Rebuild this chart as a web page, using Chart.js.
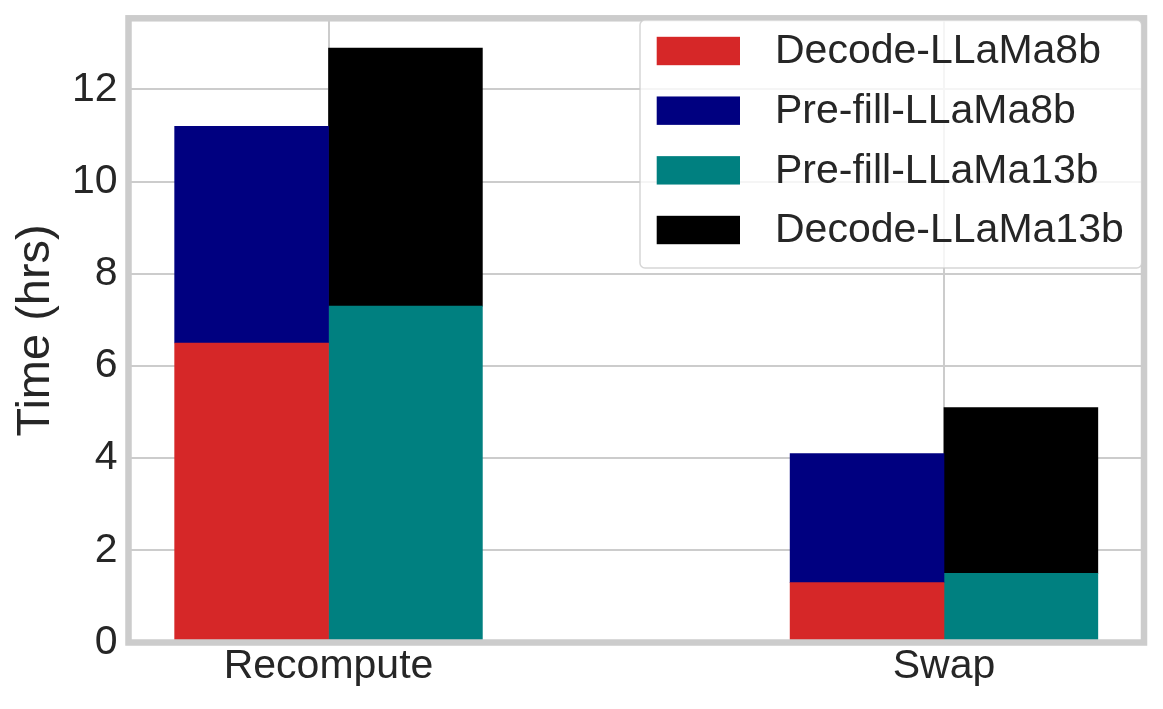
<!DOCTYPE html>
<html>
<head>
<meta charset="utf-8">
<script src="https://cdn.jsdelivr.net/npm/chart.js@4.4.1/dist/chart.umd.min.js"></script>
<style>
  html, body { margin: 0; padding: 0; background: #ffffff; }
  #wrap { width: 1163px; height: 709px; }
</style>
</head>
<body>
<div id="wrap"><canvas id="c" width="1163" height="709"></canvas></div>
<script>
// ---- data ----
const categories = ['Recompute', 'Swap'];
const decode8b   = [6.5, 1.3];
const prefill8b  = [4.7, 2.8];
const prefill13b = [7.3, 1.5];
const decode13b  = [5.6, 3.6];
const yTicks = [0, 2, 4, 6, 8, 10, 12];
const yMax = 13.545;

const FONT = '"Liberation Sans", Arial, sans-serif';
const TEXT = '#262626';
const GRID = '#cccccc';

function pts(vals, off) {
  return vals.map((v, i) => ({ x: i + off, y: v }));
}

const datasets = [
  { label: 'Decode-LLaMa8b',    data: pts(decode8b, -0.125),   backgroundColor: '#d62728', stack: 's8' },
  { label: 'Pre-fill-LLaMa8b',  data: pts(prefill8b, -0.125),  backgroundColor: '#000080', stack: 's8' },
  { label: 'Pre-fill-LLaMa13b', data: pts(prefill13b, 0.125),  backgroundColor: '#008080', stack: 's13' },
  { label: 'Decode-LLaMa13b',   data: pts(decode13b, 0.125),   backgroundColor: '#000000', stack: 's13' }
];

const spineAndLegend = {
  id: 'spineAndLegend',
  afterDraw(chart) {
    const ctx = chart.ctx;
    const a = chart.chartArea;
    // spine
    ctx.save();
    ctx.strokeStyle = GRID;
    ctx.lineWidth = 6.5;
    ctx.strokeRect(a.left, a.top, a.right - a.left, a.bottom - a.top);
    ctx.restore();
    // legend
    const lx = 640, ly = a.top + 1.7, lw = (a.right - 2.3) - 640, lh = 248;
    ctx.save();
    ctx.beginPath();
    if (ctx.roundRect) ctx.roundRect(lx, ly, lw, lh, 5); else ctx.rect(lx, ly, lw, lh);
    ctx.fillStyle = 'rgba(255,255,255,0.8)';
    ctx.fill();
    ctx.strokeStyle = 'rgba(204,204,204,0.8)';
    ctx.lineWidth = 1.5;
    ctx.stroke();
    ctx.font = '41px ' + FONT;
    ctx.textBaseline = 'middle';
    ctx.textAlign = 'left';
    chart.data.datasets.forEach((ds, i) => {
      const cy = ly + 31 + i * 59.67;
      ctx.fillStyle = ds.backgroundColor;
      ctx.fillRect(lx + 16.7, cy - 14.2, 83.3, 28.4);
      ctx.fillStyle = TEXT;
      ctx.fillText(ds.label, lx + 135, cy + 1);
    });
    ctx.restore();
  }
};

function noPad(s) { s.paddingTop = 0; s.paddingBottom = 0; s.paddingLeft = 0; s.paddingRight = 0; }

new Chart(document.getElementById('c'), {
  type: 'bar',
  data: { datasets },
  options: {
    responsive: false,
    animation: false,
    events: [],
    grouped: false,
    categoryPercentage: 1,
    barPercentage: 1,
    borderWidth: 0,
    layout: { padding: { left: 0, right: 19, top: 18.3, bottom: 0 } },
    plugins: { legend: { display: false }, tooltip: { enabled: false } },
    scales: {
      x: {
        type: 'linear',
        min: -0.325,
        max: 1.325,
        offset: false,
        stacked: true,
        afterBuildTicks: s => { s.ticks = categories.map((c, i) => ({ value: i })); },
        afterFit: s => { s.height = 66.5; noPad(s); },
        grid: { color: GRID, lineWidth: 2, drawTicks: false, offset: false },
        border: { display: false },
        ticks: {
          padding: 0,
          color: TEXT,
          font: { family: FONT, size: 41 },
          maxRotation: 0,
          autoSkip: false,
          callback: v => categories[v] ?? ''
        }
      },
      y: {
        type: 'linear',
        min: 0,
        max: yMax,
        stacked: true,
        afterBuildTicks: s => { s.ticks = yTicks.map(v => ({ value: v })); },
        afterFit: s => { s.width = 128.5; noPad(s); },
        grid: { color: GRID, lineWidth: 2, drawTicks: false },
        border: { display: false },
        ticks: {
          padding: 11,
          color: TEXT,
          font: { family: FONT, size: 41 },
          callback: v => String(v)
        },
        title: {
          display: true,
          text: 'Time (hrs)',
          color: TEXT,
          font: { family: FONT, size: 47 },
          padding: { top: 7.8, bottom: 0 }
        }
      }
    }
  },
  plugins: [spineAndLegend]
});
</script>
</body>
</html>
